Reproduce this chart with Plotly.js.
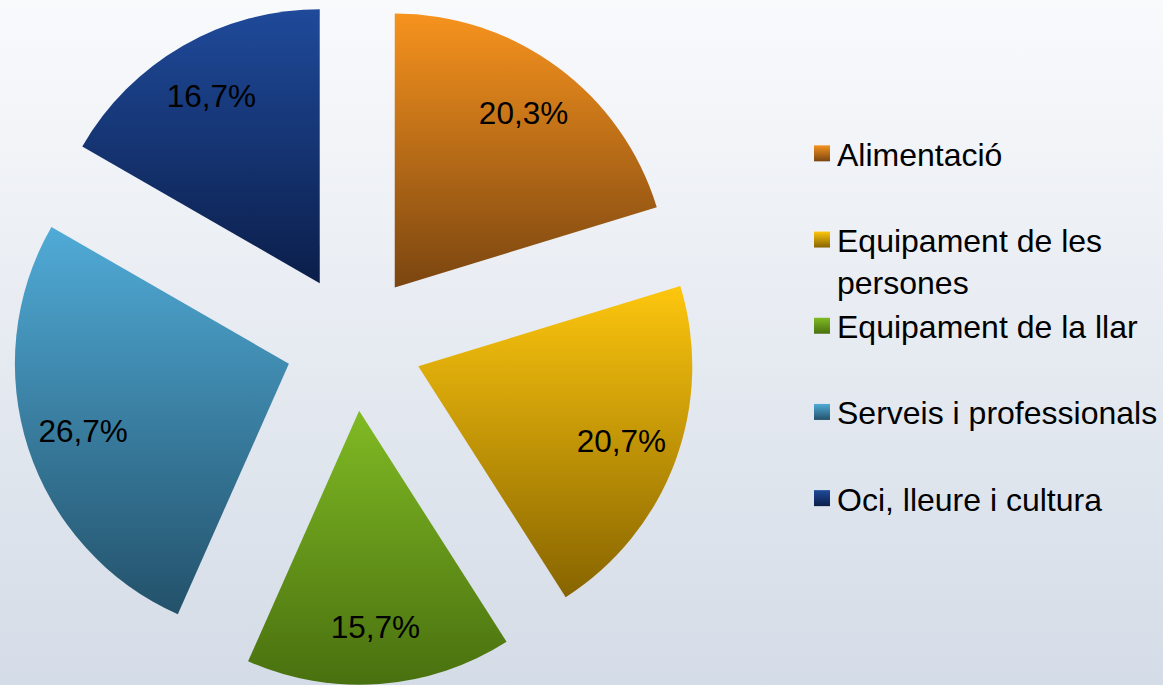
<!DOCTYPE html>
<html>
<head>
<meta charset="utf-8">
<script src="https://cdn.plot.ly/plotly-3.0.1.min.js"></script>
<style>
  html, body { margin: 0; padding: 0; }
  body { width: 1163px; height: 685px; background: linear-gradient(to bottom, #f9fafc 0%, #d4dce7 100%); }
  #chart { width: 1163px; height: 685px; }
</style>
</head>
<body>
<div id="chart"></div>
<script>
// Data
const categories = ["Alimentació", "Equipament de les persones", "Equipament de la llar", "Serveis i professionals", "Oci, lleure i cultura"];
const legendLabels = ["Alimentació<br>\u00a0", "Equipament de les<br>persones", "Equipament de la llar<br>\u00a0", "Serveis i professionals<br>\u00a0", "Oci, lleure i cultura<br>\u00a0"];
const shares = [20.3, 20.7, 15.7, 26.7, 16.7];
const topColors = ["#f7931e", "#fdc60e", "#80ba24", "#50abd7", "#1f4a9a"];
const bottomColors = ["#7a4510", "#876400", "#49700f", "#23516a", "#0b1e4a"];
const midColors = ["#c87018", "#c99a06", "#5a8a1a", "#3b7fa0", "#163572"];

const pieDomain = { x: [11.5 / 1163, 696.5 / 1163], y: [0, 1] };
const labelFont = { family: "Liberation Sans, Arial, sans-serif", size: 31.5, color: "#000000" };

// main slices
const slices = {
  type: "pie",
  labels: legendLabels,
  values: shares,
  customdata: categories,
  sort: false,
  direction: "clockwise",
  rotation: 0,
  pull: 0.25,
  marker: { colors: midColors, line: { width: 0 } },
  textinfo: "none",
  hoverinfo: "none",
  domain: pieDomain
};

// transparent ring carrying the percentage labels near the outer edge
const labelRing = {
  type: "pie",
  labels: legendLabels,
  values: shares,
  sort: false,
  direction: "clockwise",
  rotation: 0,
  pull: 0.25,
  hole: 0.58,
  showlegend: false,
  marker: { colors: shares.map(function () { return "rgba(0,0,0,0)"; }), line: { width: 0 } },
  texttemplate: "%{value:.1f}%",
  textposition: "inside",
  insidetextorientation: "horizontal",
  textfont: labelFont,
  hoverinfo: "none",
  domain: pieDomain
};

const layout = {
  width: 1163,
  height: 685,
  margin: { l: 0, r: 0, t: 0, b: 0 },
  paper_bgcolor: "rgba(0,0,0,0)",
  plot_bgcolor: "rgba(0,0,0,0)",
  separators: ",.",
  showlegend: true,
  legend: {
    x: 1, xanchor: "right",
    y: 0.816, yanchor: "top",
    valign: "top",
    bgcolor: "rgba(0,0,0,0)",
    font: { family: "Liberation Sans, Arial, sans-serif", size: 32, color: "#000000" }
  }
};

Plotly.newPlot("chart", [slices, labelRing], layout, { displayModeBar: false, staticPlot: true }).then(function (gd) {
  // add vertical gradient fills to slices and legend swatches
  const svg = gd.querySelector("svg.main-svg");
  const ns = "http://www.w3.org/2000/svg";
  let defs = svg.querySelector("defs");
  if (!defs) { defs = document.createElementNS(ns, "defs"); svg.insertBefore(defs, svg.firstChild); }
  topColors.forEach(function (c, i) {
    const g = document.createElementNS(ns, "linearGradient");
    g.setAttribute("id", "sliceGrad" + i);
    g.setAttribute("x1", "0"); g.setAttribute("y1", "0");
    g.setAttribute("x2", "0"); g.setAttribute("y2", "1");
    const s1 = document.createElementNS(ns, "stop");
    s1.setAttribute("offset", "0"); s1.setAttribute("stop-color", c);
    const s2 = document.createElementNS(ns, "stop");
    s2.setAttribute("offset", "1"); s2.setAttribute("stop-color", bottomColors[i]);
    g.appendChild(s1); g.appendChild(s2);
    defs.appendChild(g);
  });
  const firstTrace = gd.querySelector(".pielayer g.trace");
  firstTrace.querySelectorAll("g.slice path.surface").forEach(function (p, i) {
    p.style.fill = "url(#sliceGrad" + i + ")";
  });
  gd.querySelectorAll("g.legend g.traces").forEach(function (t, i) {
    const p = t.querySelector("path.legendpie");
    if (p) {
      p.setAttribute("d", "M13,8H-3V-8H13Z");
      p.style.fill = "url(#sliceGrad" + i + ")";
    }
  });
});
</script>
</body>
</html>
